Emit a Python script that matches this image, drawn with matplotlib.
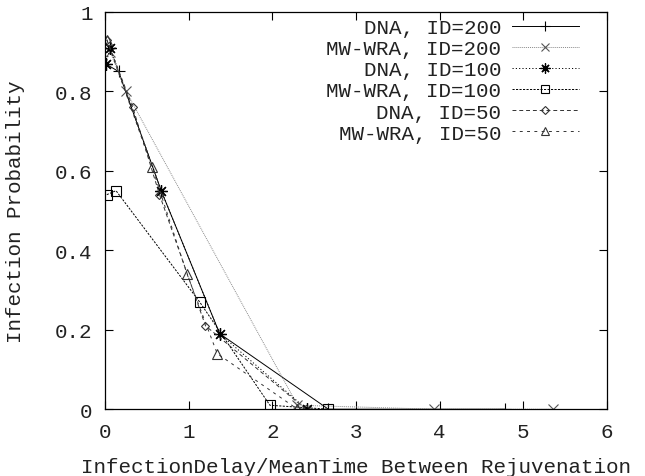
import matplotlib
matplotlib.use("Agg")
import matplotlib.pyplot as plt

# values
dna200_x = [0.0, 0.16, 0.67, 1.37, 2.67, 4.78]
dna200_y = [0.87, 0.85, 0.55, 0.19, 0.0, 0.0]
mw200_x = [0.06, 0.25, 2.30, 3.93, 5.35]
mw200_y = [0.90, 0.80, 0.01, 0.0, 0.0]
dna100_x = [0.01, 0.06, 0.67, 1.37, 2.41]
dna100_y = [0.87, 0.91, 0.55, 0.19, 0.0]
mw100_x = [0.02, 0.13, 1.13, 1.97, 2.67]
mw100_y = [0.54, 0.55, 0.27, 0.01, 0.0]
dna50_x = [0.02, 0.33, 0.65, 1.20, 2.40]
dna50_y = [0.93, 0.76, 0.54, 0.21, 0.0]
mw50_x = [0.02, 0.56, 0.98, 1.34, 2.30]
mw50_y = [0.93, 0.61, 0.34, 0.14, 0.0]

labels = ["DNA, ID=200", "MW-WRA, ID=200", "DNA, ID=100",
          "MW-WRA, ID=100", "DNA, ID=50", "MW-WRA, ID=50"]
x_ticks = [0, 1, 2, 3, 4, 5, 6]
y_ticks = [0, 0.2, 0.4, 0.6, 0.8, 1]
y_tick_labels = ["0", "0.2", "0.4", "0.6", "0.8", "1"]

plt.rcParams['font.family'] = ['Liberation Mono', 'DejaVu Sans Mono']
plt.rcParams['font.size'] = 15

fig = plt.figure(figsize=(6.45, 4.77), dpi=100)
ax = fig.add_axes([0.163, 0.14, 0.778, 0.833])

lw = 0.7
ax.plot(dna200_x, dna200_y, color="black", lw=lw, ls="-",
        marker="+", ms=9, mew=0.8, label=labels[0])
ax.plot(mw200_x, mw200_y, color="#8a8a8a", lw=lw, ls=(0, (1, 1)),
        marker="x", ms=7, mew=0.8, mec="#555555", label=labels[1])
ax.plot(dna100_x, dna100_y, color="black", lw=lw, ls=(0, (1.2, 2.2)),
        marker=(8, 2, 0), ms=9, mew=0.9, label=labels[2])
ax.plot(mw100_x, mw100_y, color="black", lw=lw, ls=(0, (2.2, 1.4)),
        marker="s", ms=7, mfc="none", mew=0.8, label=labels[3])
ax.plot(dna50_x, dna50_y, color="#333333", lw=lw, ls=(0, (4, 3)),
        marker="D", ms=4.5, mfc="none", mew=0.8, label=labels[4])
ax.plot(mw50_x, mw50_y, color="#333333", lw=lw, ls=(0, (3, 4.5)),
        marker="^", ms=7, mfc="none", mew=0.8, label=labels[5])

ax.set_xlim(0, 6)
ax.set_ylim(0, 1)
ax.set_xticks(x_ticks)
ax.set_yticks(y_ticks)
ax.set_yticklabels(y_tick_labels)
ax.tick_params(direction="in", length=6, width=0.8, top=True, right=True,
               pad=9, colors="black", labelcolor="#222222")
for s in ax.spines.values():
    s.set_linewidth(0.9)

ax.set_xlabel("InfectionDelay/MeanTime Between Rejuvenation", labelpad=12,
              color="#222222")
ax.set_ylabel("Infection Probability", labelpad=22, color="#222222")

leg = ax.legend(loc="upper right", frameon=False, markerfirst=False,
                numpoints=1, handlelength=3.2, handletextpad=0.5,
                labelspacing=0.1, borderaxespad=0.0,
                bbox_to_anchor=(0.96, 1.005), markerscale=0.8)
for t in leg.get_texts():
    t.set_color("#222222")

fig.savefig("out.png", dpi=100)
